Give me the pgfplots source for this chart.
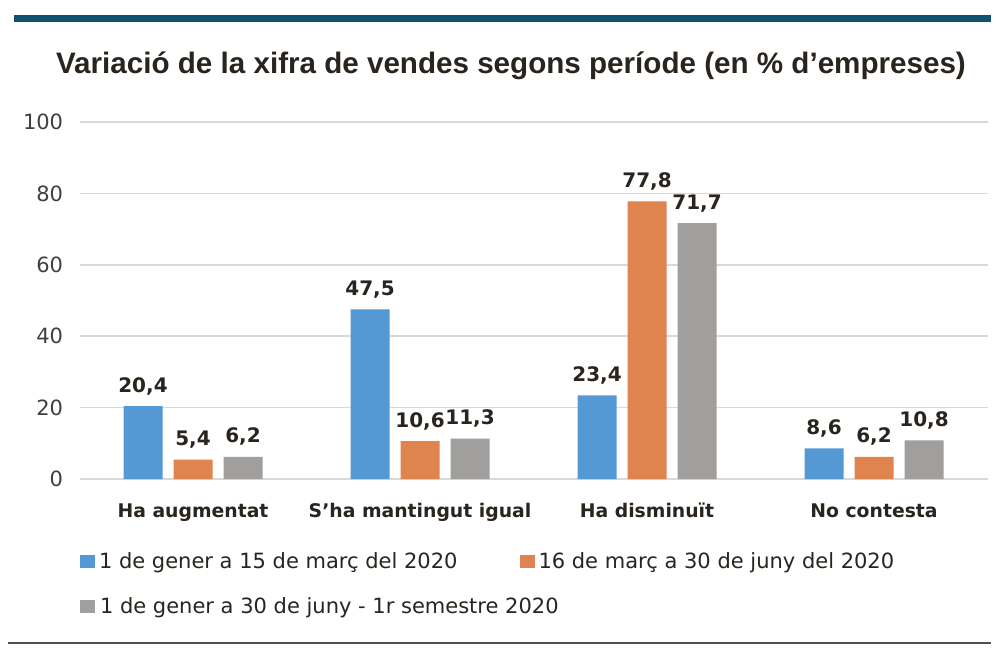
\documentclass[border=0pt]{standalone}
\usepackage{fontspec}
\setmainfont{DejaVu Sans}
\newfontfamily\titlefont{Liberation Sans}
\usepackage{pgfplots}
\pgfplotsset{compat=1.18}

\definecolor{barblue}{HTML}{5599D4}
\definecolor{barorange}{HTML}{E0844F}
\definecolor{bargray}{HTML}{A09F9E}
\definecolor{txt}{HTML}{2A241F}
\definecolor{topbar}{HTML}{0F5270}
\definecolor{gridc}{HTML}{D9D9D9}
\definecolor{rulec}{HTML}{505050}

\pgfplotsset{
  sqlegend/.style={legend image code/.code={\fill[##1] (0pt,0pt) rectangle (7.5pt,6.5pt);}}
}

% 1 px of the reference = 0.5pt
\pgfplotstableread{
x  v
0  20.4
1  47.5
2  23.4
3  8.6
}\gener
\pgfplotstableread{
x  v
0  5.4
1  10.6
2  77.8
3  6.2
}\marc
\pgfplotstableread{
x  v
0  6.2
1  11.3
2  71.7
3  10.8
}\semestre

\begin{document}
\begin{tikzpicture}[x=1pt,y=1pt]
\path[use as bounding box, fill=white] (0,0) rectangle (500,325);
\fill[topbar] (7,314) rectangle (495.5,317.5);
\draw[line width=1.2pt, rulec] (4,3.5) -- (495.5,3.5);
\node[anchor=base, inner sep=0pt, text=txt,
      font=\titlefont\fontsize{14.8}{17}\selectfont\bfseries]
  at (255.5,288.5) {Variació de la xifra de vendes segons període (en \% d’empreses)};

\begin{axis}[
  at={(39.75pt,85.5pt)}, anchor=south west,
  scale only axis, width=454pt, height=178.5pt,
  ybar=5.5pt, bar width=19.5pt,
  xmin=-0.5, xmax=3.5, ymin=0, ymax=100,
  xtick={0,1,2,3},
  xticklabels={Ha augmentat, S’ha mantingut igual, Ha disminuït, No contesta},
  ytick={0,20,...,100},
  ymajorgrids, grid style={gridc, line width=0.75pt},
  axis line style={draw=none}, major tick length=0pt,
  xticklabel style={anchor=base, inner sep=0pt, yshift=-19pt,
    font=\fontsize{9.4}{11}\selectfont\bfseries, text=txt},
  yticklabel style={anchor=east, inner sep=0pt, xshift=-8pt,
    font=\fontsize{10.5}{12}\selectfont, text=black!75},
  /pgf/number format/assume math mode=true,
  nodes near coords,
  nodes near coords style={font=\fontsize{10}{12}\selectfont\bfseries, text=txt,
    anchor=base, inner sep=0pt, yshift=7pt,
    /pgf/number format/.cd, use comma, fixed, fixed zerofill, precision=1},
  legend columns=2,
  legend style={at={(axis description cs:0,0)}, anchor=north west,
    xshift=0.25pt, yshift=-36.8pt,
    draw=none, fill=none, inner sep=0pt, outer sep=0pt,
    font=\fontsize{10.5}{12}\selectfont, text=txt,
    column sep=2pt, row sep=12.8pt,
    /tikz/every even column/.append style={column sep=31pt},
    nodes={inner sep=0pt, text height=7.7pt, text depth=2pt, anchor=base west}},
  legend cell align=left,
]
\addplot[fill=barblue, draw=none, sqlegend] table[x=x, y=v] {\gener};
\addplot[fill=barorange, draw=none, sqlegend] table[x=x, y=v] {\marc};
\addplot[fill=bargray, draw=none, sqlegend] table[x=x, y=v] {\semestre};
\legend{1 de gener a 15 de març del 2020,
        16 de març a 30 de juny del 2020,
        \makebox[0pt][l]{1 de gener a 30 de juny - 1r semestre 2020}}
\end{axis}
\end{tikzpicture}
\end{document}
